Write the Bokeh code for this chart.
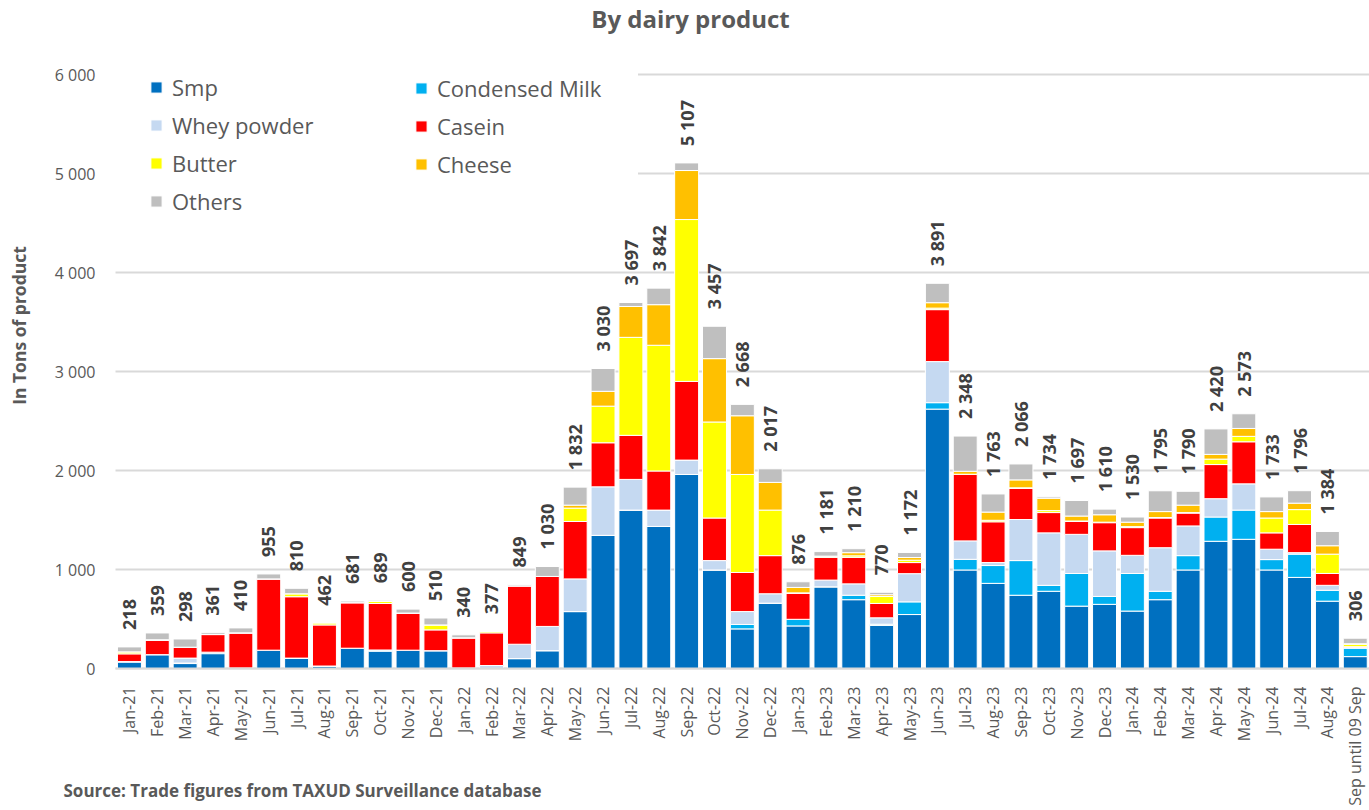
from math import pi
from bokeh.plotting import figure
from bokeh.models import (ColumnDataSource, Range1d, FixedTicker, LinearAxis,
                          Legend, LegendItem, LabelSet, Label)
from bokeh.core.properties import value
from bokeh.embed import file_html
from bokeh.resources import INLINE

months = ["Jan-21", "Feb-21", "Mar-21", "Apr-21", "May-21", "Jun-21", "Jul-21", "Aug-21",
          "Sep-21", "Oct-21", "Nov-21", "Dec-21",
          "Jan-22", "Feb-22", "Mar-22", "Apr-22", "May-22", "Jun-22", "Jul-22", "Aug-22",
          "Sep-22", "Oct-22", "Nov-22", "Dec-22",
          "Jan-23", "Feb-23", "Mar-23", "Apr-23", "May-23", "Jun-23", "Jul-23", "Aug-23",
          "Sep-23", "Oct-23", "Nov-23", "Dec-23",
          "Jan-24", "Feb-24", "Mar-24", "Apr-24", "May-24", "Jun-24", "Jul-24", "Aug-24",
          "Sep until 09 Sep"]

smp = [65, 140, 50, 150, 5, 185, 105, 25, 205, 175, 185, 180,
       5, 0, 100, 180, 575, 1345, 1600, 1435, 1960, 995, 400, 660,
       430, 825, 695, 435, 545, 2620, 995, 860, 740, 780, 630, 648,
       580, 695, 995, 1285, 1305, 995, 920, 680, 120]
condensed = [5, 0, 5, 15, 0, 0, 0, 0, 0, 12, 0, 0,
             0, 0, 0, 0, 0, 0, 0, 0, 0, 0, 45, 0,
             67, 0, 45, 12, 128, 65, 108, 180, 350, 60, 330, 80,
             380, 85, 145, 245, 295, 105, 235, 110, 85]
whey = [0, 0, 50, 0, 0, 0, 0, 0, 0, 0, 0, 0,
        0, 30, 145, 245, 330, 490, 310, 165, 145, 95, 130, 95,
        0, 68, 115, 65, 285, 415, 186, 30, 415, 530, 395, 460,
        183, 440, 300, 185, 265, 105, 15, 50, 10]
casein = [78, 145, 110, 178, 355, 720, 620, 415, 460, 470, 375, 210,
          305, 330, 590, 505, 580, 445, 445, 395, 795, 430, 395, 385,
          262, 230, 268, 145, 112, 525, 673, 412, 315, 205, 130, 285,
          280, 300, 130, 345, 425, 165, 285, 120, 5]
butter = [20, 5, 0, 0, 0, 0, 30, 22, 0, 20, 0, 50,
          0, 17, 0, 0, 135, 370, 990, 1270, 1635, 970, 990, 460,
          5, 12, 15, 70, 24, 15, 0, 15, 5, 20, 5, 5,
          10, 5, 5, 55, 55, 150, 150, 195, 25]
cheese = [0, 0, 0, 0, 0, 0, 0, 0, 0, 0, 0, 0,
          0, 0, 0, 0, 30, 150, 312, 410, 495, 640, 593, 280,
          55, 0, 32, 18, 27, 55, 30, 83, 80, 125, 50, 75,
          45, 60, 75, 48, 80, 65, 65, 85, 5]
others = [50, 69, 83, 18, 50, 50, 55, 0, 16, 12, 40, 70,
          30, 0, 14, 100, 182, 230, 40, 167, 77, 327, 115, 137,
          57, 46, 40, 25, 51, 196, 356, 183, 161, 14, 157, 57,
          52, 210, 140, 257, 148, 148, 126, 144, 56]
totals = [218, 359, 298, 361, 410, 955, 810, 462, 681, 689, 600, 510,
          340, 377, 849, 1030, 1832, 3030, 3697, 3842, 5107, 3457, 2668, 2017,
          876, 1181, 1210, 770, 1172, 3891, 2348, 1763, 2066, 1734, 1697, 1610,
          1530, 1795, 1790, 2420, 2573, 1733, 1796, 1384, 306]

series = ["Smp", "Condensed Milk", "Whey powder", "Casein", "Butter", "Cheese", "Others"]
keys = ["smp", "condensed", "whey", "casein", "butter", "cheese", "others"]
colors = ["#0070C0", "#00B0F0", "#C5D9F1", "#FF0000", "#FFFF00", "#FFC000", "#BFBFBF"]
y_ticks = [0, 1000, 2000, 3000, 4000, 5000, 6000]

title_text = "By dairy product"
y_title = "In Tons of product"
source_text = "Source: Trade figures from TAXUD Surveillance database"

def fmt(v):
    return f"{v:,}".replace(",", " ")

idx = list(range(len(months)))
data = dict(idx=idx, smp=smp, condensed=condensed, whey=whey, casein=casein,
            butter=butter, cheese=cheese, others=others)
data["stack_top"] = [sum(v) for v in zip(smp, condensed, whey, casein, butter, cheese, others)]
data["label"] = [fmt(t) for t in totals]
src = ColumnDataSource(data)

GRAY = "#595959"
GRID = "#D9D9D9"
FONT = "Open Sans"

W, H = 1369, 810
LEFT, TOP, BOTTOM = 115, 74, 668          # pixel frame of the bar area
PITCH = 27.86                             # pixels per category
x0 = -0.5 - LEFT / PITCH
x1 = x0 + W / PITCH
ppu = (BOTTOM - TOP) / 6000.0
y0 = -(H - BOTTOM) / ppu
y1 = 6000 + TOP / ppu

p = figure(x_range=Range1d(x0, x1), y_range=Range1d(y0, y1),
           width=W, height=H, output_backend="svg", toolbar_location=None,
           x_axis_location=None, y_axis_location=None, min_border=0)
p.outline_line_color = None
p.background_fill_color = "white"
p.border_fill_color = "white"
p.grid.visible = False

# y axis: its inward ticks serve as the horizontal gridlines, drawn under the bars
yax = LinearAxis(fixed_location=-0.5, bounds=(0, 6000), ticker=FixedTicker(ticks=y_ticks),
                 level="underlay")
yax.major_label_overrides = {t: fmt(t) for t in y_ticks}
yax.axis_line_color = None
yax.major_tick_in = W - LEFT
yax.major_tick_out = 0
yax.major_tick_line_color = GRID
yax.major_tick_line_width = 2
yax.minor_tick_line_color = None
yax.major_label_standoff = 20
yax.major_label_text_font = FONT
yax.major_label_text_font_size = "16px"
yax.major_label_text_color = GRAY
p.add_layout(yax, "left")

rs = p.vbar_stack(keys, x="idx", width=0.86, fill_color=colors, line_color="white",
                  line_width=1, source=src)

xax = LinearAxis(fixed_location=0, bounds=(-0.5, len(months) - 0.5),
                 ticker=FixedTicker(ticks=idx))
xax.major_label_overrides = dict(zip(idx, months))
xax.axis_line_color = GRID
xax.axis_line_width = 2
xax.major_tick_line_color = None
xax.minor_tick_line_color = None
xax.major_label_orientation = pi / 2
xax.major_label_standoff = 12
xax.major_label_text_font = FONT
xax.major_label_text_font_size = "16px"
xax.major_label_text_color = GRAY
p.add_layout(xax, "below")

labels = LabelSet(x="idx", y="stack_top", text="label", source=src, angle=pi / 2,
                  text_align="left", text_baseline="middle", y_offset=17,
                  text_font=value(FONT), text_font_size="18px", text_font_style="bold",
                  text_color="#404040")
p.add_layout(labels)

def make_legend(ids, loc, lw):
    leg = Legend(items=[LegendItem(label=series[i], renderers=[rs[i]]) for i in ids],
                 location=loc, orientation="vertical")
    leg.label_text_font = FONT
    leg.label_text_font_size = "22px"
    leg.label_text_color = GRAY
    leg.glyph_width = 14
    leg.glyph_height = 14
    leg.label_height = 24
    leg.label_width = lw
    leg.label_standoff = 9
    leg.spacing = 8
    leg.padding = 35
    leg.margin = 0
    leg.border_line_color = "white"
    leg.background_fill_color = "white"
    leg.background_fill_alpha = 1
    return leg

p.add_layout(make_legend([0, 2, 4, 6], (113, 558), 175))
p.add_layout(make_legend([1, 3, 5], (378, 595), 165))

p.add_layout(Label(x=690, y=H - 18, x_units="screen", y_units="screen", text=title_text,
                   text_align="center", text_baseline="middle", text_font=FONT,
                   text_font_size="24px", text_font_style="bold", text_color=GRAY))
p.add_layout(Label(x=18, y=H - 325, x_units="screen", y_units="screen", text=y_title,
                   angle=pi / 2, text_align="center", text_baseline="middle", text_font=FONT,
                   text_font_size="17.5px", text_font_style="bold", text_color=GRAY))
p.add_layout(Label(x=63, y=H - 790, x_units="screen", y_units="screen", text=source_text,
                   text_align="left", text_baseline="middle", text_font=FONT,
                   text_font_size="17px", text_font_style="bold", text_color=GRAY))

open("out.html", "w").write(file_html(p, INLINE))
